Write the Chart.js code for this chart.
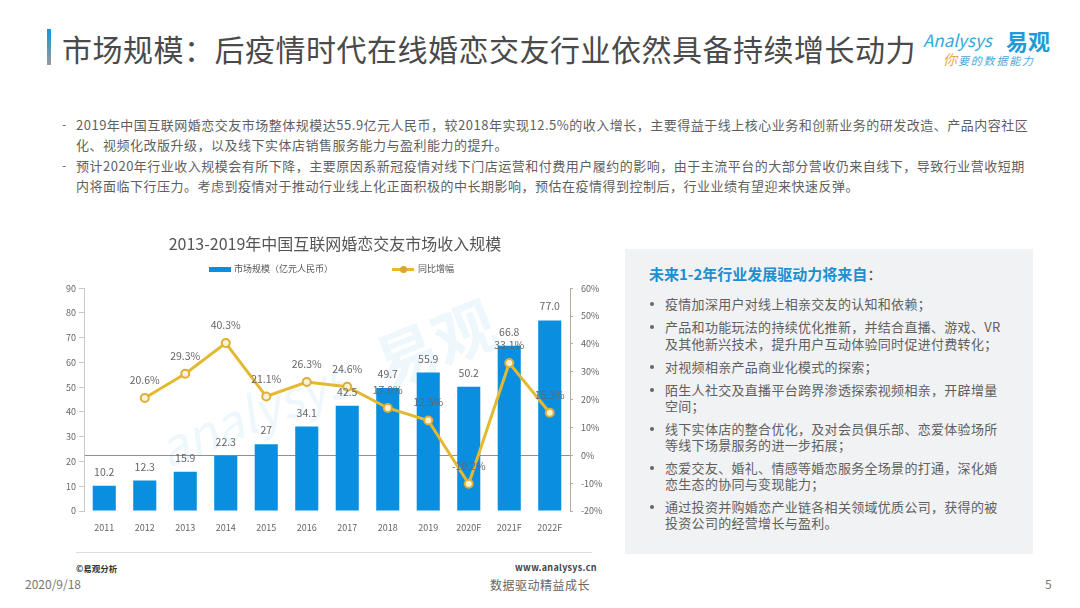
<!DOCTYPE html>
<html lang="zh-CN">
<head>
    <meta charset="UTF-8">
    <title>市场规模</title>
    <script src="https://cdn.jsdelivr.net/npm/chart.js"></script>
    <style>
        * {
            padding: 0;
            margin: 0;
            box-sizing: border-box;
            font-family: 'Noto Sans CJK SC', sans-serif;
        }

        body {
            width: 1080px;
            height: 608px;
            background: #ffffff;
            position: relative;
            overflow: hidden;
            color: #595959;
        }

        .txt {
            position: absolute;
            white-space: nowrap;
            line-height: 1;
        }

        #titlebar {
            position: absolute;
            left: 47px;
            top: 29px;
            width: 4px;
            height: 36px;
            background: linear-gradient(#1195dc, #9a9a9a);
        }

        #title {
            left: 62px;
            top: 33px;
            font-size: 30px;
            letter-spacing: 0.5px;
            color: #4a4a4a;
        }

        .body-line {
            left: 76px;
            font-size: 13px;
            letter-spacing: 0.5px;
            color: #5f5f5f;
        }

        #panel {
            position: absolute;
            left: 625px;
            top: 249px;
            width: 408px;
            height: 305px;
            background: #f1f2f4;
        }

        #panel-head {
            left: 649px;
            top: 266px;
            font-size: 15px;
            font-weight: bold;
            color: #1b8fd0;
        }

        .panel-line {
            left: 665px;
            font-size: 13px;
            letter-spacing: 0.3px;
            color: #606060;
        }

        .bullet {
            position: absolute;
            left: 650px;
            width: 4px;
            height: 4px;
            border-radius: 50%;
            background: #666666;
        }

        .mark {
            color: #eef7fc;
            font-weight: bold;
            transform-origin: left top;
        }

        #chart-wrap {
            position: absolute;
            left: 60px;
            top: 232px;
            width: 550px;
            height: 305px;
        }

        .legend-text {
            font-size: 9px;
            color: #555555;
            top: 264px;
        }

        .swatch {
            position: absolute;
        }

        #rule {
            position: absolute;
            left: 76px;
            top: 552px;
            width: 516px;
            height: 1px;
            background: #dddddd;
        }
    </style>
</head>

<body>
    <div id="titlebar"></div>
    <div class="txt" id="title">市场规模&#xFF1A;后疫情时代在线婚恋交友行业依然具备持续增长动力</div>

    <div class="txt" style="left:923px;top:31px;font-size:17px;font-style:italic;color:#35a7dc">Analysys</div>
    <div class="txt" style="left:1006px;top:29px;font-size:22px;font-weight:bold;color:#1f9bd8">易观</div>
    <div class="txt" style="left:943px;top:52px;font-size:14px;font-style:italic;color:#e9a84a">你</div>
    <div class="txt" style="left:958px;top:55px;font-size:11px;font-style:italic;letter-spacing:1.8px;color:#4aa9d8">要的数据能力</div>

    <div class="txt" style="left:62px;top:118px;font-size:12px;color:#5f5f5f">-</div>
    <div class="txt body-line" style="top:118px">2019年中国互联网婚恋交友市场整体规模达55.9亿元人民币&#xFF0C;较2018年实现12.5%的收入增长&#xFF0C;主要得益于线上核心业务和创新业务的研发改造、产品内容社区</div>
    <div class="txt body-line" style="top:138px">化、视频化改版升级&#xFF0C;以及线下实体店销售服务能力与盈利能力的提升。</div>
    <div class="txt" style="left:62px;top:159px;font-size:12px;color:#5f5f5f">-</div>
    <div class="txt body-line" style="top:159px">预计2020年行业收入规模会有所下降&#xFF0C;主要原因系新冠疫情对线下门店运营和付费用户履约的影响&#xFF0C;由于主流平台的大部分营收仍来自线下&#xFF0C;导致行业营收短期</div>
    <div class="txt body-line" style="top:179px">内将面临下行压力。考虑到疫情对于推动行业线上化正面积极的中长期影响&#xFF0C;预估在疫情得到控制后&#xFF0C;行业业绩有望迎来快速反弹。</div>

    <div class="txt mark" style="left:365px;top:335px;font-size:62px;transform:rotate(-22deg)">易观</div>
    <div class="txt mark" style="left:150px;top:425px;font-size:50px;font-style:italic;font-weight:normal;transform:rotate(-22deg)">analysys</div>

    <div id="chart-wrap"><canvas id="chart" width="550" height="305"></canvas></div>

    <div class="swatch" style="left:209px;top:267px;width:22px;height:5px;background:#0a8fe0"></div>
    <div class="txt legend-text" id="legend-bar" style="left:234px"></div>
    <div class="swatch" style="left:392px;top:268px;width:22px;height:3px;background:#e8b830"></div>
    <div class="swatch" style="left:400px;top:266px;width:7px;height:7px;border-radius:50%;background:#d9a62c"></div>
    <div class="txt legend-text" id="legend-line" style="left:418px"></div>

    <div id="rule"></div>
    <div class="txt" style="left:76px;top:564px;font-size:8.5px;font-weight:bold;color:#333333">©易观分析</div>
    <div class="txt" style="left:515px;top:563px;font-size:9px;font-weight:bold;letter-spacing:0.3px;color:#444444">www.analysys.cn</div>
    <div class="txt" style="left:25px;top:578px;font-size:12px;color:#777777">2020/9/18</div>
    <div class="txt" style="left:490px;top:579px;font-size:12px;letter-spacing:0.5px;color:#666666">数据驱动精益成长</div>
    <div class="txt" style="left:1045px;top:578px;font-size:12px;color:#777777">5</div>

    <div id="panel"></div>
    <div class="txt" id="panel-head">未来1-2年行业发展驱动力将来自<span style="color:#555555;font-weight:normal">&#xFF1A;</span></div>
    <div id="panel-lines"></div>

    <script>
        const chartTitle = '2013-2019年中国互联网婚恋交友市场收入规模';
        const sizeName = '市场规模\uFF08亿元人民币\uFF09';
        const growthName = '同比增幅';
        const years = ['2011', '2012', '2013', '2014', '2015', '2016', '2017', '2018', '2019', '2020F', '2021F', '2022F'];
        const marketSize = [10.2, 12.3, 15.9, 22.3, 27, 34.1, 42.5, 49.7, 55.9, 50.2, 66.8, 77.0];
        const sizeLabels = ['10.2', '12.3', '15.9', '22.3', '27', '34.1', '42.5', '49.7', '55.9', '50.2', '66.8', '77.0'];
        const growth = [null, 20.6, 29.3, 40.3, 21.1, 26.3, 24.6, 17.0, 12.5, -10.2, 33.1, 15.3];

        const panelLines = [
            [304, '疫情加深用户对线上相亲交友的认知和依赖\uFF1B', true],
            [327, '产品和功能玩法的持续优化推新\uFF0C并结合直播、游戏、VR', true],
            [344, '及其他新兴技术\uFF0C提升用户互动体验同时促进付费转化\uFF1B', false],
            [367, '对视频相亲产品商业化模式的探索\uFF1B', true],
            [390, '陌生人社交及直播平台跨界渗透探索视频相亲\uFF0C开辟增量', true],
            [406, '空间\uFF1B', false],
            [429, '线下实体店的整合优化\uFF0C及对会员俱乐部、恋爱体验场所', true],
            [445, '等线下场景服务的进一步拓展\uFF1B', false],
            [468, '恋爱交友、婚礼、情感等婚恋服务全场景的打通\uFF0C深化婚', true],
            [484, '恋生态的协同与变现能力\uFF1B', false],
            [507, '通过投资并购婚恋产业链各相关领域优质公司\uFF0C获得的被', true],
            [523, '投资公司的经营增长与盈利。', false]
        ];

        document.getElementById('legend-bar').textContent = sizeName;
        document.getElementById('legend-line').textContent = growthName;

        const holder = document.getElementById('panel-lines');
        panelLines.forEach(function (row) {
            const line = document.createElement('div');
            line.className = 'txt panel-line';
            line.style.top = (row[0] - 7) + 'px';
            line.textContent = row[1];
            holder.appendChild(line);
            if (row[2]) {
                const dot = document.createElement('div');
                dot.className = 'bullet';
                dot.style.top = (row[0] - 2) + 'px';
                holder.appendChild(dot);
            }
        });

        // value labels over the bars and the line points
        const valueLabels = {
            id: 'valueLabels',
            afterDatasetsDraw(chart) {
                const ctx = chart.ctx;
                ctx.save();
                ctx.fillStyle = '#666666';
                ctx.textAlign = 'center';
                ctx.textBaseline = 'middle';
                ctx.font = "10.5px 'Noto Sans CJK SC', sans-serif";
                chart.getDatasetMeta(1).data.forEach(function (bar, i) {
                    ctx.fillText(sizeLabels[i], bar.x, bar.y - 14);
                });
                chart.getDatasetMeta(0).data.forEach(function (pt, i) {
                    if (growth[i] !== null) {
                        ctx.fillText(growth[i].toFixed(1) + '%', pt.x, pt.y - 18);
                    }
                });
                ctx.restore();
            }
        };

        const tickFont = { size: 9, family: "'Noto Sans CJK SC', sans-serif" };

        new Chart(document.getElementById('chart'), {
            data: {
                labels: years,
                datasets: [
                    {
                        type: 'line',
                        label: growthName,
                        data: growth,
                        yAxisID: 'y1',
                        order: 1,
                        borderColor: '#e3b92f',
                        borderWidth: 3,
                        tension: 0,
                        pointRadius: 4,
                        pointBorderWidth: 2,
                        pointBorderColor: '#dfae35',
                        pointBackgroundColor: '#fbf3d8'
                    },
                    {
                        type: 'bar',
                        label: sizeName,
                        data: marketSize,
                        yAxisID: 'y',
                        order: 2,
                        backgroundColor: '#0a8fe0',
                        barPercentage: 0.57,
                        categoryPercentage: 1
                    }
                ]
            },
            options: {
                responsive: false,
                animation: false,
                layout: { padding: 0 },
                plugins: {
                    legend: { display: false },
                    tooltip: { enabled: false },
                    title: {
                        display: true,
                        text: chartTitle,
                        color: '#555555',
                        font: { size: 16, weight: 'normal', family: "'Noto Sans CJK SC', sans-serif" },
                        padding: { top: 2, bottom: 35 }
                    }
                },
                scales: {
                    x: {
                        grid: { display: false },
                        border: { display: false },
                        afterFit(scale) { scale.height = 26; },
                        ticks: { color: '#666666', font: tickFont, padding: 3, maxRotation: 0, autoSkip: false }
                    },
                    y: {
                        position: 'left',
                        min: 0,
                        max: 90,
                        afterFit(scale) { scale.width = 24; },
                        border: { color: '#c8c8c8' },
                        grid: { drawOnChartArea: false, tickColor: '#c8c8c8', tickLength: 5 },
                        ticks: { stepSize: 10, color: '#666666', font: tickFont, padding: 3 }
                    },
                    y1: {
                        position: 'right',
                        min: -20,
                        max: 60,
                        afterFit(scale) { scale.width = 40; },
                        border: { color: '#b8aca0' },
                        grid: {
                            color: function (c) { return c.tick.value === 0 ? '#8f8f8f' : 'transparent'; },
                            tickColor: '#b8aca0',
                            tickLength: 3
                        },
                        ticks: {
                            stepSize: 10,
                            color: '#666666',
                            font: tickFont,
                            padding: 8,
                            callback: function (v) { return v + '%'; }
                        }
                    }
                }
            },
            plugins: [valueLabels]
        });
    </script>
</body>
</html>
